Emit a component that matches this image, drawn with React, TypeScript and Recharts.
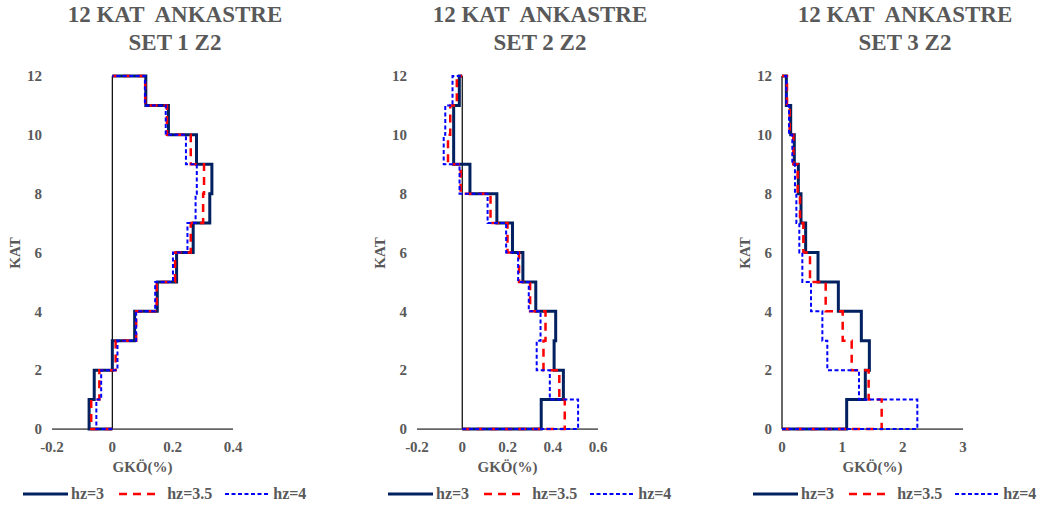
import React from 'react';
import { ScatterChart, Scatter, XAxis, YAxis, ReferenceLine } from 'recharts';

// Story numbers (KAT), values are GKÖ(%) per story 1..12
const stories = [1, 2, 3, 4, 5, 6, 7, 8, 9, 10, 11, 12];
const seriesNames = ['hz=3', 'hz=3.5', 'hz=4'];
const yTicks = [0, 2, 4, 6, 8, 10, 12];

const set1Hz3 = [-0.077, -0.06, 0.0, 0.074, 0.149, 0.213, 0.268, 0.323, 0.33, 0.279, 0.186, 0.111];
const set1Hz35 = [-0.07, -0.043, 0.011, 0.079, 0.147, 0.208, 0.26, 0.301, 0.304, 0.26, 0.181, 0.109];
const set1Hz4 = [-0.053, -0.037, 0.017, 0.079, 0.142, 0.201, 0.249, 0.276, 0.28, 0.244, 0.177, 0.108];
const set1XTicks = [-0.2, 0, 0.2, 0.4];

const set2Hz3 = [0.349, 0.447, 0.406, 0.413, 0.325, 0.268, 0.222, 0.153, 0.034, -0.038, -0.038, -0.013];
const set2Hz35 = [0.453, 0.429, 0.359, 0.368, 0.3, 0.251, 0.2, 0.125, -0.007, -0.063, -0.053, -0.024];
const set2Hz4 = [0.512, 0.387, 0.329, 0.346, 0.294, 0.247, 0.194, 0.112, -0.012, -0.082, -0.075, -0.043];
const set2XTicks = [-0.2, 0, 0.2, 0.4, 0.6];

const set3Hz3 = [1.072, 1.381, 1.448, 1.315, 0.934, 0.597, 0.392, 0.315, 0.271, 0.204, 0.144, 0.072];
const set3Hz35 = [1.652, 1.436, 1.155, 1.006, 0.724, 0.464, 0.354, 0.298, 0.26, 0.188, 0.127, 0.083];
const set3Hz4 = [2.243, 1.276, 0.751, 0.669, 0.481, 0.337, 0.287, 0.238, 0.215, 0.171, 0.116, 0.072];
const set3XTicks = [0, 1, 2, 3];

const titles = ['SET 1 Z2', 'SET 2 Z2', 'SET 3 Z2'];

const GRAY = '#595959';
const FONT = '"Liberation Serif", "Times New Roman", serif';
const NAVY = '#002060';
const RED = '#FF0000';
const BLUE = '#0000FF';

// Step profile: (0,0) -> (v1,0) -> (v1,1) -> (v2,1) ... -> (v12,12) -> (0,12)
function stepPoints(vals: number[]) {
  const pts: { x: number; y: number }[] = [{ x: 0, y: 0 }];
  vals.forEach((v, i) => {
    pts.push({ x: v, y: stories[i] - 1 });
    pts.push({ x: v, y: stories[i] });
  });
  pts.push({ x: 0, y: stories[stories.length - 1] });
  return pts;
}

const noShape = () => <g />;

const tickStyle = { fill: GRAY, fontSize: 15, fontWeight: 'bold' as const, fontFamily: FONT };

function Legend() {
  const txt: React.CSSProperties = { fontSize: 16, fontWeight: 'bold', color: GRAY, fontFamily: FONT, lineHeight: '18px' };
  return (
    <div style={{ position: 'absolute', left: 23, top: 485, display: 'flex', alignItems: 'center', height: 18 }}>
      <svg width={45} height={6}><line x1={0} y1={3} x2={45} y2={3} stroke={NAVY} strokeWidth={3} /></svg>
      <span style={{ ...txt, marginLeft: 3 }}>{seriesNames[0]}</span>
      <svg width={36} height={6} style={{ marginLeft: 15 }}><line x1={0} y1={3} x2={36} y2={3} stroke={RED} strokeWidth={2.5} strokeDasharray="8 6" /></svg>
      <span style={{ ...txt, marginLeft: 12 }}>{seriesNames[1]}</span>
      <svg width={45} height={6} style={{ marginLeft: 13 }}><line x1={0} y1={3} x2={45} y2={3} stroke={BLUE} strokeWidth={2} strokeDasharray="4 2.5" /></svg>
      <span style={{ ...txt, marginLeft: 3 }}>{seriesNames[2]}</span>
    </div>
  );
}

function Panel(props: { left: number; title: string; a: number[]; b: number[]; c: number[]; xTicks: number[] }) {
  const { left, title, a, b, c, xTicks } = props;
  const W = 319;
  const H = 508;
  return (
    <div style={{ position: 'absolute', left, top: 0, width: W, height: H }}>
      <div style={{ position: 'absolute', left: 0, width: 350, top: 1, textAlign: 'center', color: GRAY, fontFamily: FONT, fontWeight: 'bold', fontSize: 23, lineHeight: '28px', whiteSpace: 'pre' }}>
        {'12 KAT  ANKASTRE'}
        <br />
        {title}
      </div>
      <ScatterChart width={W} height={H} margin={{ top: 76, right: 86, bottom: 49, left: 22 }}>
        <XAxis
          type="number"
          dataKey="x"
          domain={[xTicks[0], xTicks[xTicks.length - 1]]}
          ticks={xTicks}
          interval={0}
          tickLine={false}
          tickSize={0}
          tickMargin={12}
          height={30}
          axisLine={{ stroke: '#666666', strokeWidth: 1.75 }}
          tick={tickStyle}
        />
        <YAxis
          type="number"
          dataKey="y"
          domain={[0, 12]}
          ticks={yTicks}
          interval={0}
          tickLine={false}
          tickSize={0}
          tickMargin={10}
          width={30}
          axisLine={false}
          tick={tickStyle}
        />
        <ReferenceLine x={0} stroke="#000000" strokeWidth={1.2} />
        <Scatter data={stepPoints(a)} shape={noShape} line={{ stroke: NAVY, strokeWidth: 3 }} isAnimationActive={false} legendType="none" />
        <Scatter data={stepPoints(b)} shape={noShape} line={{ stroke: RED, strokeWidth: 2.5, strokeDasharray: '8 6' }} isAnimationActive={false} legendType="none" />
        <Scatter data={stepPoints(c)} shape={noShape} line={{ stroke: BLUE, strokeWidth: 2, strokeDasharray: '4 2.5' }} isAnimationActive={false} legendType="none" />
      </ScatterChart>
      <div style={{ position: 'absolute', left: 142.5, top: 467, transform: 'translate(-50%, -50%)', color: GRAY, fontFamily: FONT, fontWeight: 'bold', fontSize: 15, whiteSpace: 'nowrap' }}>GKÖ(%)</div>
      <div style={{ position: 'absolute', left: 15, top: 253, transform: 'translate(-50%, -50%) rotate(-90deg)', color: GRAY, fontFamily: FONT, fontWeight: 'bold', fontSize: 15, whiteSpace: 'nowrap' }}>KAT</div>
      <Legend />
    </div>
  );
}

export default function App() {
  return (
    <div style={{ position: 'absolute', left: 0, top: 0, width: 1049, height: 508, overflow: 'hidden', background: '#fff', fontFamily: FONT }}>
      <Panel left={0} title={titles[0]} a={set1Hz3} b={set1Hz35} c={set1Hz4} xTicks={set1XTicks} />
      <Panel left={365} title={titles[1]} a={set2Hz3} b={set2Hz35} c={set2Hz4} xTicks={set2XTicks} />
      <Panel left={730} title={titles[2]} a={set3Hz3} b={set3Hz35} c={set3Hz4} xTicks={set3XTicks} />
    </div>
  );
}
